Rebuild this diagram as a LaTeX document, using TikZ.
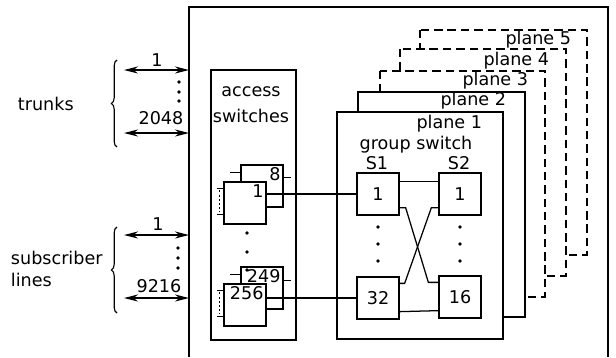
\documentclass[tikz,border=0pt]{standalone}
\usepackage{fontspec}
\setmainfont{DejaVu Sans}
\usepackage{tikz}
\usetikzlibrary{arrows.meta, positioning, calc, decorations.pathreplacing}

\tikzset{
  link/.style={line width=0.9pt},
  swbox/.style={draw, line width=0.9pt, fill=white, minimum width=1.05cm, minimum height=1.05cm, inner sep=0pt},
  planebox/.style={draw, line width=0.9pt, fill=white},
  dashplane/.style={planebox, dash pattern=on 6pt off 3.5pt},
  numlabel/.style={anchor=north east, inner sep=2pt},
  twoway/.style={line width=0.9pt, {Stealth[length=10pt,width=5pt]}-{Stealth[length=10pt,width=5pt]}},
  curly/.style={line width=0.8pt, decorate, decoration={brace, amplitude=4pt}},
}

\begin{document}
\begin{tikzpicture}[x=0.025cm, y=-0.025cm, font=\fontsize{12.5}{15.5}\selectfont]
  \useasboundingbox (0,0) rectangle (616,357);

  % Outer frame (open at the bottom)
  \coordinate (FL) at (189,7);
  \coordinate (FR) at (608,7);
  \draw[link] (FL |- 0,357) -- (FL) -- (FR) -- (FR |- 0,357);

  % Planes 5 to 1, back to front
  \draw[dashplane] (420,30) rectangle (587,255);
  \draw[dashplane] (400,49) rectangle (566,276);
  \draw[dashplane] (380,71) rectangle (545,297);
  \draw[planebox] (358,92) rectangle (525,317);
  \draw[planebox] (337,112) rectangle (503,339);

  \node[anchor=east] (p5) at (576,40) {plane 5};
  \node[anchor=east] (p4) at (554,61) {plane 4};
  \node[anchor=east] (p3) at (533,81) {plane 3};
  \node[anchor=east] (p2) at (511,101) {plane 2};
  \node[anchor=east] (p1) at (487,124) {plane 1};

  % Group switch
  \node (gs) at (416,145) {group switch};
  \node (s1) at (377,163) {S1};
  \node (s2) at (459,163) {S2};

  \node[swbox] (s1a) at (378,194) {1};
  \node[swbox] (s1b) at (378,298) {32};
  \node[swbox] (s2a) at (460,194) {1};
  \node[swbox] (s2b) at (460,297) {16};

  \draw[link] ($(s1a.north east)+(0,9)$) -- ($(s2a.north west)+(0,9)$);
  \draw[link] ($(s1b.south east)+(0,-8)$) -- ($(s2b.south west)+(0,-8)$);
  \draw[link] ($(s1a.south east)+(0,-8)$) -- ++(6,0) -- ($(s2b.north west)+(-10,7)$) -- ++(10,0);
  \draw[link] ($(s1b.north east)+(0,7)$) -- ++(5,0) -- ($(s2a.south west)+(-7,-8)$) -- ++(7,0);

  \foreach \y in {227,244,261} {
    \fill (378,\y) circle (1.3pt);
    \fill (460,\y) circle (1.3pt);
  }

  % Access switches
  \draw[link] (211,70) rectangle (296,340);
  \node (acc) at (251,92) {access};
  \node (swi) at (251,116) {switches};

  \node[swbox, label={[numlabel]north east:8}] (a8) at (262,186) {};
  \draw[link] ($(a8.north west)+(-10,8)$) -- ++(10,0);
  \draw[link] ($(a8.north east)+(0,13)$) -- ++(7,0);
  \node[swbox, label={[numlabel]north east:1}] (a1) at (245,203) {};
  \draw[link] ($(a1.north west)+(-6,7)$) -- ++(6,0);
  \draw[link] ($(a1.north west)+(-6,33)$) -- ++(6,0);
  \draw[line width=1.2pt, dash pattern=on 1.5pt off 1.5pt] ($(a1.north west)+(-4,9)$) -- ++(0,22);

  \node[swbox, label={[numlabel]north east:249}] (a249) at (262,288) {};
  \draw[link] ($(a249.north west)+(-10,8)$) -- ++(10,0);
  \draw[link] ($(a249.north east)+(0,14)$) -- ++(7,0);
  \node[swbox, label={[numlabel]north east:256}] (a256) at (245,305) {};
  \draw[link] ($(a256.north west)+(-6,7)$) -- ++(6,0);
  \draw[link] ($(a256.north west)+(-6,33)$) -- ++(6,0);
  \draw[line width=1.2pt, dash pattern=on 1.5pt off 1.5pt] ($(a256.north west)+(-4,9)$) -- ++(0,22);

  \foreach \y in {233,252,270}
    \fill (247,\y) circle (1.3pt);

  % Access switches to group switch
  \draw[link] (a1.east |- s1a.west) -- (s1a.west);
  \draw[link] (a256.east |- s1b.west) -- (s1b.west);

  % Trunks
  \node[anchor=west] (trk) at (13,104) {trunks};
  \draw[curly] (117,147) -- (117,60);
  \coordinate (t1) at (124,70);
  \coordinate (t2) at (124,133);
  \draw[twoway] (t1) -- (t1 -| FL);
  \draw[twoway] (t2) -- (t2 -| FL);
  \node (t1n) at (157,60) {1};
  \node (t2n) at (161,118) {2048};
  \foreach \y in {82,92,101}
    \fill (179,\y) circle (1.3pt);

  % Subscriber lines
  \node[anchor=west, align=left] (sub) at (6,269) {subscriber\\lines};
  \draw[curly] (117,313) -- (117,227);
  \coordinate (l1) at (124,235);
  \coordinate (l2) at (124,298);
  \draw[twoway] (l1) -- (l1 -| FL);
  \draw[twoway] (l2) -- (l2 -| FL);
  \node (l1n) at (158,224) {1};
  \node (l2n) at (159,286) {9216};
  \foreach \y in {248,258,268}
    \fill (178,\y) circle (1.3pt);
\end{tikzpicture}
\end{document}
